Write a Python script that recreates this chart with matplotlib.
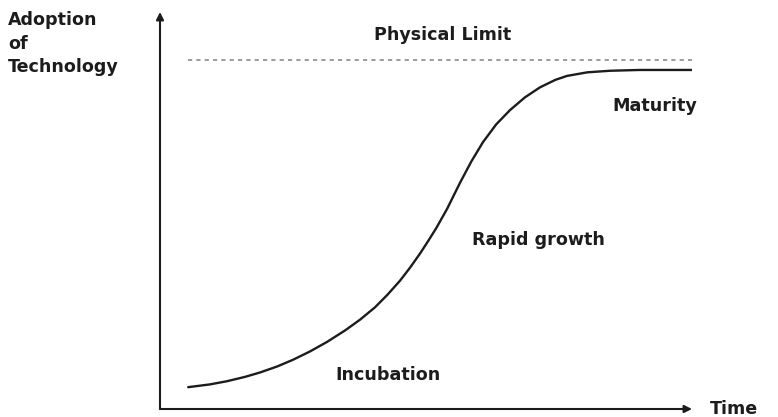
import matplotlib
matplotlib.use("Agg")
import matplotlib.pyplot as plt

# S-curve of technology adoption (time 0-100, adoption 0-100)
time = [5.3, 9.4, 12.6, 16.0, 18.8, 22.0, 25.0, 28.2, 31.4, 34.8, 37.6, 40.4,
        42.7, 45.1, 47.0, 48.9, 50.4, 51.9, 54.0, 56.4, 58.5, 60.7, 63.2, 65.8,
        68.6, 71.4, 74.3, 76.5, 80.3, 84.6, 90.2, 100.0]
adoption = [5.5, 6.2, 7.0, 8.1, 9.2, 10.7, 12.4, 14.5, 16.9, 19.8, 22.5, 25.6,
            28.7, 32.3, 35.6, 39.2, 42.3, 45.5, 50.5, 57.0, 62.3, 67.2, 71.7, 75.3,
            78.5, 81.0, 82.9, 83.9, 84.8, 85.2, 85.4, 85.4]
limit_value = 87.9
limit_span = [5.3, 100.0]

stage_labels = ["Physical Limit", "Maturity", "Rapid growth", "Incubation"]
y_label = "Adoption\nof\nTechnology"
x_label = "Time"

W, H = 778, 417
fig = plt.figure(figsize=(W / 100, H / 100), dpi=100)
# axes box placed so that the origin sits where the arrows cross
ax = fig.add_axes([160 / W, (H - 409) / H, (692 - 160) / W, (409 - 12) / H])
ax.set_xlim(0, 100)
ax.set_ylim(0, 100)
ax.axis("off")

ink = "#1c1c1c"
ax.plot(time, adoption, color=ink, lw=1.7, solid_capstyle="round",
        solid_joinstyle="round")
ax.plot(limit_span, [limit_value, limit_value], color="#8a8a8a", lw=1.2,
        dashes=(2.5, 2.5))

# axes drawn as arrows
arrow = dict(arrowstyle="-|>", color=ink, lw=1.5, mutation_scale=11,
             shrinkA=0, shrinkB=0)
ax.annotate("", xy=(0, 1), xytext=(0, 0), xycoords="axes fraction",
            arrowprops=arrow, annotation_clip=False)
ax.annotate("", xy=(1, 0), xytext=(0, 0), xycoords="axes fraction",
            arrowprops=arrow, annotation_clip=False)

font = dict(fontfamily="DejaVu Sans", fontweight="bold", color=ink, fontsize=12.6)


def px(x, y):
    return x / W, 1 - y / H


fig.text(*px(8, 11), y_label, va="top", ha="left", linespacing=1.4, **font)
fig.text(*px(710, 409), x_label, va="center", ha="left", **font)
fig.text(*px(443, 35), stage_labels[0], va="center", ha="center", **font)
fig.text(*px(612, 106), stage_labels[1], va="center", ha="left", **font)
fig.text(*px(472, 240), stage_labels[2], va="center", ha="left", **font)
fig.text(*px(335, 375), stage_labels[3], va="center", ha="left", **font)

fig.savefig("out.png", dpi=100, facecolor="white")
